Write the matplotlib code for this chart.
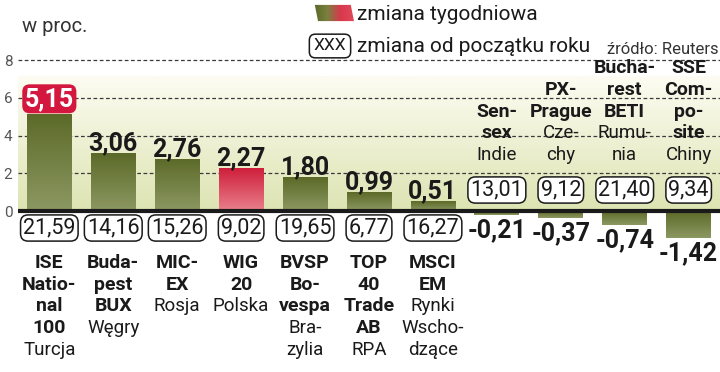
import numpy as np
import matplotlib
matplotlib.use("Agg")
import matplotlib.pyplot as plt
from matplotlib import font_manager
from matplotlib.colors import LinearSegmentedColormap
from matplotlib.patches import Polygon

# data
indices = ["ISE\nNatio-\nnal\n100", "Buda-\npest\nBUX", "MIC-\nEX", "WIG\n20",
           "BVSP\nBo-\nvespa", "TOP\n40\nTrade\nAB", "MSCI\nEM", "Sen-\nsex",
           "PX-\nPrague", "Bucha-\nrest\nBETI", "SSE\nCom-\npo-\nsite"]
countries = ["Turcja", "Węgry", "Rosja", "Polska", "Bra-\nzylia", "RPA",
             "Rynki\nWscho-\ndzące", "Indie", "Cze-\nchy", "Rumu-\nnia", "Chiny"]
weekly = [5.15, 3.06, 2.76, 2.27, 1.80, 0.99, 0.51, -0.21, -0.37, -0.74, -1.42]
ytd = [21.59, 14.16, 15.26, 9.02, 19.65, 6.77, 16.27, 13.01, 9.12, 21.40, 9.34]
yticks = [0, 2, 4, 6, 8]
home = "Polska"

# fonts
names = {f.name for f in font_manager.fontManager.ttflist}
def pick(*cands):
    for c in cands:
        if c in names:
            return c
    return "DejaVu Sans"
narrow = pick("Liberation Sans Narrow", "DejaVu Sans Condensed", "Roboto")
cond = pick("DejaVu Sans Condensed", "Liberation Sans Narrow", "Roboto")
reg = pick("Roboto", "Open Sans")

def fmt(v):
    return f"{v:.2f}".replace(".", ",")

green = LinearSegmentedColormap.from_list("g", ["#8c9862", "#5c6a28"])
red = LinearSegmentedColormap.from_list("r", ["#e9808c", "#cf1f3c"])
bg = LinearSegmentedColormap.from_list("bg", ["#dde4b2", "#fdfcf2"])
grad = np.linspace(0, 1, 100).reshape(-1, 1)

fig = plt.figure(figsize=(7.2, 3.72), dpi=100)
ax = fig.add_axes([0.025, 0, 0.975, 1])
x = np.arange(len(weekly))
ax.set_xlim(-0.49, len(weekly) - 0.51)
ax.set_ylim(-8.53, 11.18)

# background panel
ax.imshow(grad, extent=(-0.49, len(weekly) - 0.51, 0, 7.1), cmap=bg,
          aspect="auto", origin="lower", zorder=0)
ax.hlines([2, 4, 6, 8], -0.49, len(weekly) - 0.51, colors="#3a3a3a",
          linestyles=(0, (3, 2)), lw=0.9, zorder=1)

bars = ax.bar(x, weekly, width=0.7, color="none", zorder=2)
for b, c in zip(bars, countries):
    x0, w = b.get_x(), b.get_width()
    y0, h = b.get_y(), b.get_height()
    top, bot = max(y0, y0 + h), min(y0, y0 + h)
    im = ax.imshow(grad, extent=(x0, x0 + w, bot, top), origin="lower",
                   cmap=red if c == home else green, aspect="auto", zorder=2)
    im.set_clip_path(b)

ax.axhline(0, color="#1a1a1a", lw=3, zorder=3)

ax.set_yticks(yticks)
ax.set_yticklabels([str(t) for t in yticks])
ax.set_xticks([])
ax.tick_params(axis="y", length=0, pad=4, labelsize=11, labelcolor="#555555")
for s in ax.spines.values():
    s.set_visible(False)
for lab in ax.get_yticklabels():
    lab.set_fontfamily(reg)

top_idx = int(np.argmax(weekly))
for i, v in enumerate(weekly):
    if i == top_idx:
        ax.annotate(fmt(v), (i, v), xytext=(0, 15), textcoords="offset pixels",
                    ha="center", va="center", fontsize=18, fontweight="bold",
                    family=cond, color="white", zorder=5,
                    bbox=dict(boxstyle="round,pad=0.1,rounding_size=0.3",
                              fc="#d3173f", ec="none"))
    elif v >= 0:
        ax.annotate(fmt(v), (i, v), xytext=(0, 3), textcoords="offset pixels",
                    ha="center", va="baseline", fontsize=18, fontweight="bold",
                    family=cond, color="#1a1a1a", zorder=5)
    else:
        ax.annotate(fmt(v), (i, v), xytext=(0, -3), textcoords="offset pixels",
                    ha="center", va="top", fontsize=18, fontweight="bold",
                    family=cond, color="#1a1a1a", zorder=5)

# year-to-date boxes and category labels
lh = 21.7
for i, v in enumerate(weekly):
    dy = -17 if v >= 0 else 21
    ax.annotate(fmt(ytd[i]), (i, 0), xytext=(0, dy), textcoords="offset pixels",
                ha="center", va="center", fontsize=15.5, family=narrow,
                color="#1a1a1a", zorder=6,
                bbox=dict(boxstyle="round,pad=0.12,rounding_size=0.35",
                          fc="white", ec="#1a1a1a", lw=1.1))
    lines = [(t, "bold") for t in indices[i].split("\n")] + \
            [(t, "normal") for t in countries[i].split("\n")]
    n = len(lines)
    for k, (t, wgt) in enumerate(lines):
        if v >= 0:
            off = -(52 + lh * k)
        else:
            off = 56 + lh * (n - 1 - k)
        ax.annotate(t, (i, 0), xytext=(0, off), textcoords="offset pixels",
                    ha="center", va="center",
                    fontsize=14 if wgt == "bold" else 13.5, fontweight=wgt,
                    family=cond if wgt == "bold" else reg, color="#1a1a1a",
                    zorder=6)

# header and legend
H = 372.0
fig.text(22 / 720, 1 - 27 / H, "w proc.", fontsize=14.5, family=reg,
         color="#333333", va="center")
sw = fig.add_axes([314 / 720, 1 - 22 / H, 40 / 720, 18 / H])
sw.axis("off")
sw.set_xlim(0, 1)
sw.set_ylim(0, 1)
im = sw.imshow(np.linspace(0, 1, 50).reshape(1, -1), extent=(0, 1, 0, 1),
               cmap=LinearSegmentedColormap.from_list("gr", ["#5c6a28", "#7a8040", "#d9384c", "#e0485a"]),
               aspect="auto")
poly = Polygon([(0.1, 0.05), (1.0, 0.05), (0.92, 0.95), (0.02, 0.95)],
               closed=True, transform=sw.transData, fc="none", ec="none")
sw.add_patch(poly)
im.set_clip_path(poly)
fig.text(357 / 720, 1 - 14 / H, "zmiana tygodniowa", fontsize=15, family=reg,
         color="#1a1a1a", va="center")
fig.text(330 / 720, 1 - 46 / H, "XXX", fontsize=12.5, family=narrow,
         color="#1a1a1a", va="center", ha="center",
         bbox=dict(boxstyle="round,pad=0.25,rounding_size=0.35", fc="white",
                   ec="#1a1a1a", lw=1.1))
fig.text(357 / 720, 1 - 46 / H, "zmiana od początku roku", fontsize=15,
         family=reg, color="#1a1a1a", va="center")
fig.text(719 / 720, 1 - 50 / H, "źródło: Reuters", fontsize=12, family=narrow,
         color="#333333", va="center", ha="right")

fig.savefig("out.png", dpi=100)
